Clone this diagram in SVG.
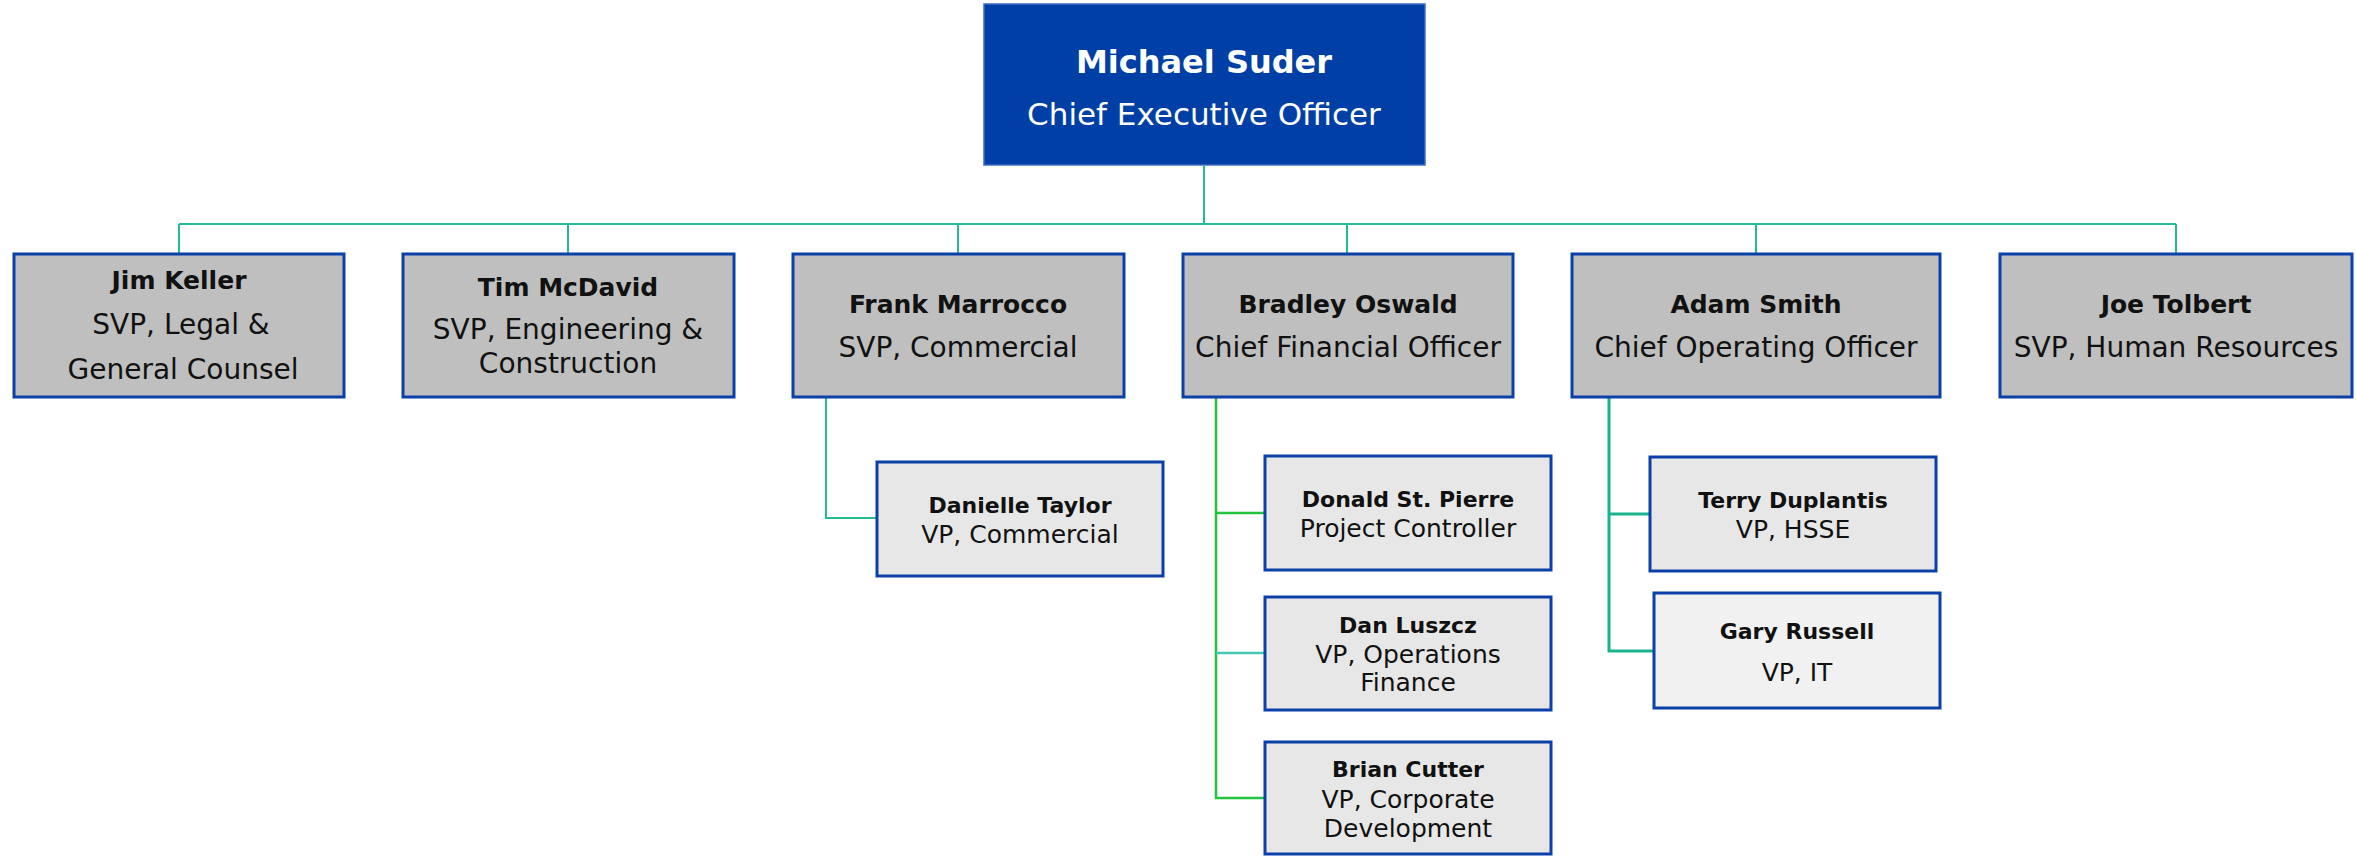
<svg xmlns="http://www.w3.org/2000/svg" width="2356" height="857" viewBox="0 0 2356 857">
<style>
.bg{fill:#ffffff}
.l2{fill:#bfbfbf;stroke:#0b40a8;stroke-width:3}
.l3{fill:#e7e7e7;stroke:#0b40a8;stroke-width:3}
.l3b{fill:#f1f1f1;stroke:#0b40a8;stroke-width:3}
.ceo{fill:#0040a6;stroke:#3c6cc0;stroke-width:1.5}
text{font-family:"DejaVu Sans","Liberation Sans",sans-serif;text-anchor:middle;fill:#111111}
.n2{font-weight:bold;font-size:25px}
.t2{font-size:28px}
.n3{font-weight:bold;font-size:22px}
.t3{font-size:25px}
.teal{fill:none;stroke:#22bb96;stroke-width:2}
.teal3{fill:none;stroke:#19b48e;stroke-width:3}
.green{fill:none;stroke:#22c43c;stroke-width:2.5}
.tealL{fill:none;stroke:#45c8b2;stroke-width:2.5}
</style>
<rect class="bg" x="0" y="0" width="2356" height="857"/>
<g id="connectors">
<path class="teal" d="M1204 166 V224 M179 224 H2176 M179 224 V253 M568 224 V253 M958 224 V253 M1347 224 V253 M1756 224 V253 M2176 224 V253"/>
<path class="teal" d="M826 398 V518 H877"/>
<path class="green" d="M1216 398 V798 H1265 M1216 513 H1265"/>
<path class="tealL" d="M1216 653 H1265"/>
<path class="teal3" d="M1609 398 V651 H1654 M1609 514 H1650"/>
</g>
<g id="ceo">
<rect class="ceo" x="984" y="4" width="441" height="161"/>
<text x="1204" y="73" style="font-weight:bold;font-size:32px;fill:#ffffff">Michael Suder</text>
<text x="1204" y="125" style="font-size:31px;fill:#ffffff">Chief Executive Officer</text>
</g>
<g id="jim-keller">
<rect class="l2" x="14" y="254" width="330" height="143"/>
<text class="n2" x="179" y="289">Jim Keller</text>
<text class="t2" x="181" y="334">SVP, Legal &amp;</text>
<text class="t2" x="183" y="379">General Counsel</text>
</g>
<g id="tim-mcdavid">
<rect class="l2" x="403" y="254" width="331" height="143"/>
<text class="n2" x="568" y="296">Tim McDavid</text>
<text class="t2" x="568" y="339">SVP, Engineering &amp;</text>
<text class="t2" x="568" y="373">Construction</text>
</g>
<g id="frank-marrocco">
<rect class="l2" x="793" y="254" width="331" height="143"/>
<text class="n2" x="958" y="313">Frank Marrocco</text>
<text class="t2" x="958" y="357">SVP, Commercial</text>
</g>
<g id="bradley-oswald">
<rect class="l2" x="1183" y="254" width="330" height="143"/>
<text class="n2" x="1348" y="313">Bradley Oswald</text>
<text class="t2" x="1348" y="357">Chief Financial Officer</text>
</g>
<g id="adam-smith">
<rect class="l2" x="1572" y="254" width="368" height="143"/>
<text class="n2" x="1756" y="313">Adam Smith</text>
<text class="t2" x="1756" y="357">Chief Operating Officer</text>
</g>
<g id="joe-tolbert">
<rect class="l2" x="2000" y="254" width="352" height="143"/>
<text class="n2" x="2176" y="313">Joe Tolbert</text>
<text class="t2" x="2176" y="357">SVP, Human Resources</text>
</g>
<g id="danielle-taylor">
<rect class="l3" x="877" y="462" width="286" height="114"/>
<text class="n3" x="1020" y="513">Danielle Taylor</text>
<text class="t3" x="1020" y="543">VP, Commercial</text>
</g>
<g id="donald-st-pierre">
<rect class="l3" x="1265" y="456" width="286" height="114"/>
<text class="n3" x="1408" y="507">Donald St. Pierre</text>
<text class="t3" x="1408" y="537">Project Controller</text>
</g>
<g id="dan-luszcz">
<rect class="l3" x="1265" y="597" width="286" height="113"/>
<text class="n3" x="1408" y="633">Dan Luszcz</text>
<text class="t3" x="1408" y="663">VP, Operations</text>
<text class="t3" x="1408" y="691">Finance</text>
</g>
<g id="brian-cutter">
<rect class="l3" x="1265" y="742" width="286" height="112"/>
<text class="n3" x="1408" y="777">Brian Cutter</text>
<text class="t3" x="1408" y="808">VP, Corporate</text>
<text class="t3" x="1408" y="837">Development</text>
</g>
<g id="terry-duplantis">
<rect class="l3" x="1650" y="457" width="286" height="114"/>
<text class="n3" x="1793" y="508">Terry Duplantis</text>
<text class="t3" x="1793" y="538">VP, HSSE</text>
</g>
<g id="gary-russell">
<rect class="l3b" x="1654" y="593" width="286" height="115"/>
<text class="n3" x="1797" y="639">Gary Russell</text>
<text class="t3" x="1797" y="681">VP, IT</text>
</g>
</svg>
